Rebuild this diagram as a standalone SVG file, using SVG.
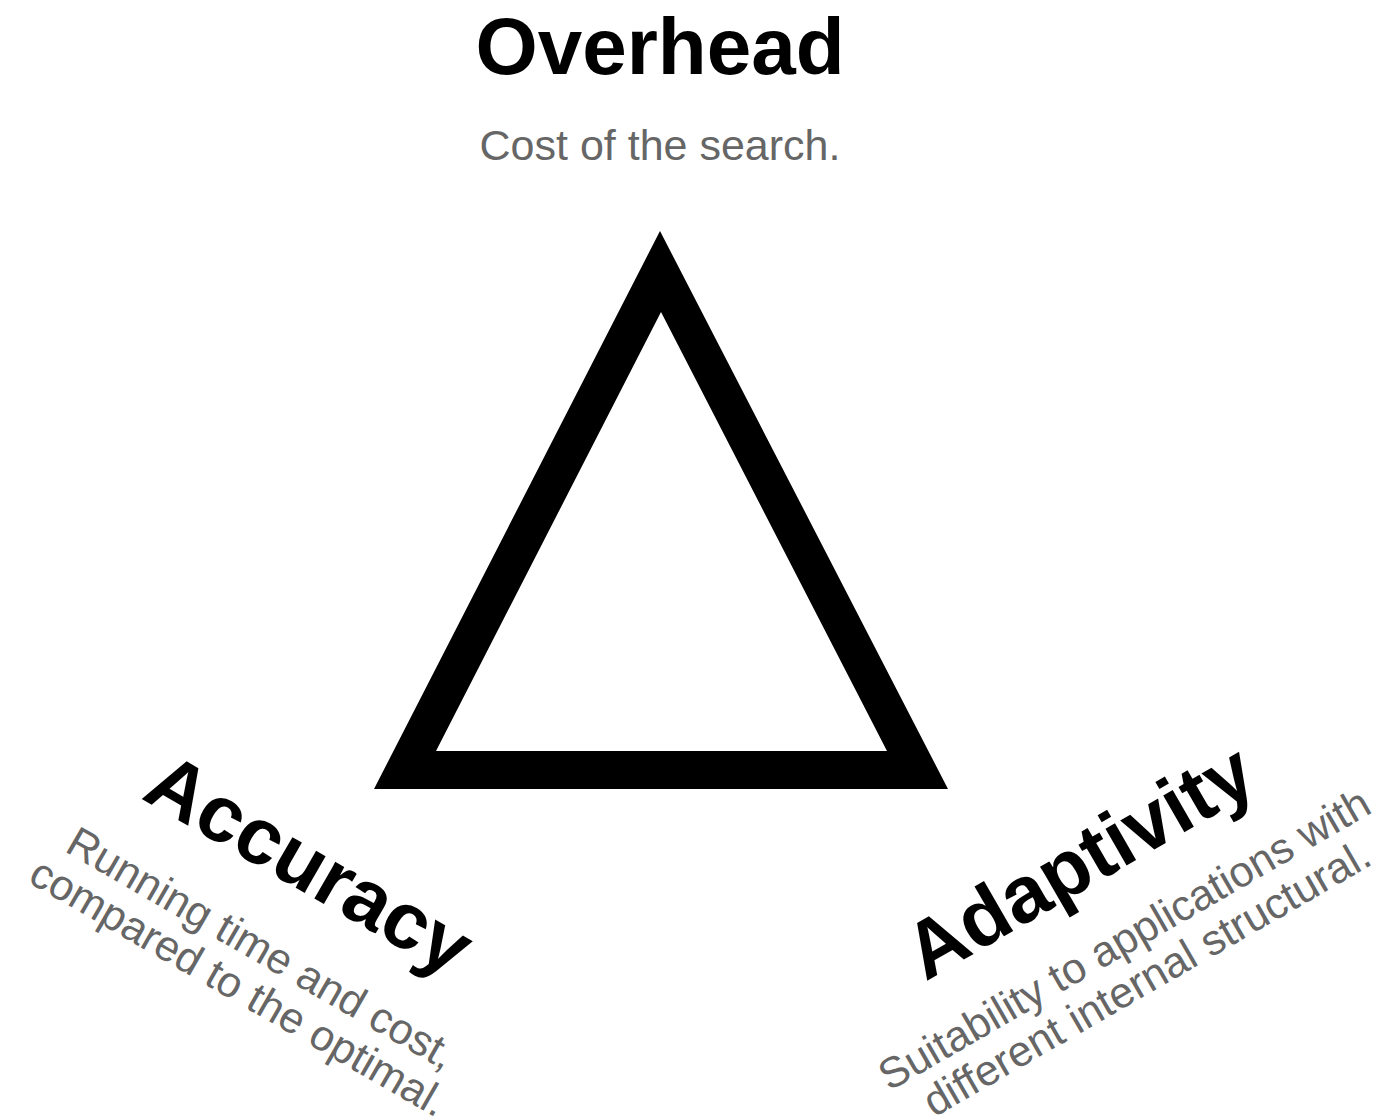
<svg xmlns="http://www.w3.org/2000/svg" width="1395" height="1119" viewBox="0 0 1395 1119">
<style>
.title{font-family:"Liberation Sans",Arial,sans-serif;font-weight:bold;font-size:80px;fill:#000;text-anchor:middle}
.sub{font-family:"Liberation Sans",Arial,sans-serif;font-size:43px;fill:#666;text-anchor:middle}
</style>
<rect width="1395" height="1119" fill="#fff"/>
<g id="triangle">
<path d="M660,231 L374,789 L948,789 Z M661,312 L887,751 L436,751 Z" fill="#000" fill-rule="evenodd"/>
</g>
<g id="overhead">
<text class="title" x="660" y="74">Overhead</text>
<text class="sub" x="660" y="160">Cost of the search.</text>
</g>
<g id="accuracy" transform="translate(296,888) rotate(30)">
<text class="title" x="0" y="0">Accuracy</text>
<text class="sub" x="0" y="84">Running time and cost,</text>
<text class="sub" x="0" y="129">compared to the optimal.</text>
</g>
<g id="adaptivity" transform="translate(1093,885) rotate(-30)">
<text class="title" x="0" y="0">Adaptivity</text>
<text class="sub" x="0" y="77">Suitability to applications with</text>
<text class="sub" x="0" y="122">different internal structural.</text>
</g>
<g id="connectors"></g>
</svg>
